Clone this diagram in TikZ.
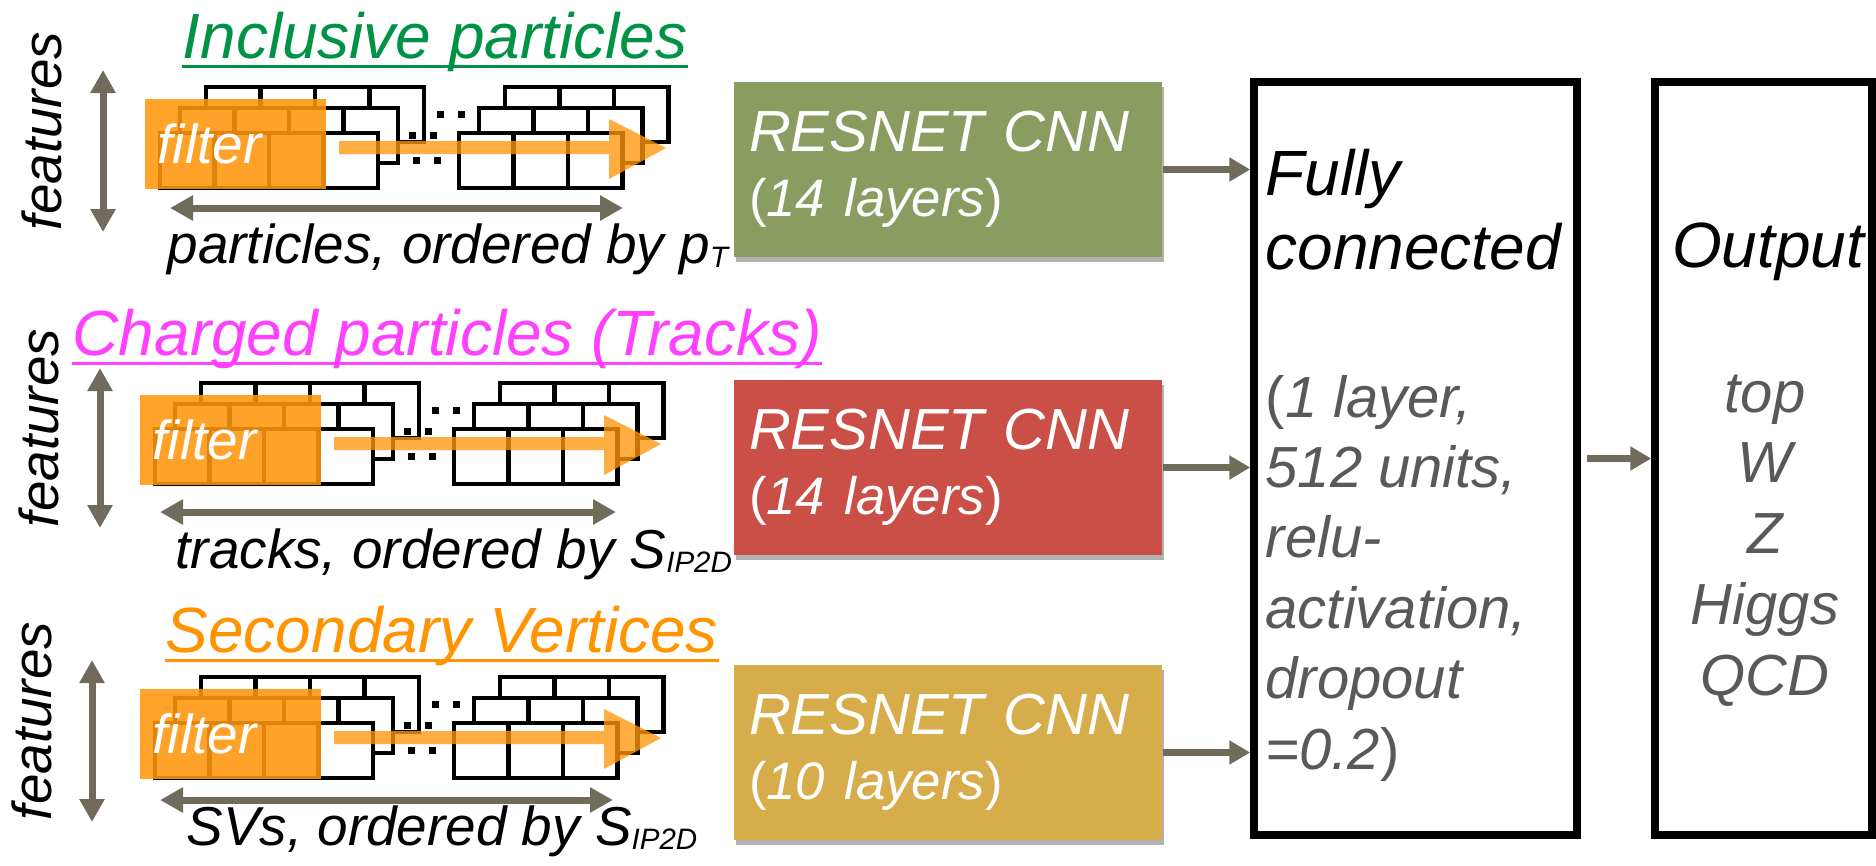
\documentclass[tikz,border=0pt]{standalone}
\usepackage{fontspec}
\setmainfont{Liberation Sans}
\usetikzlibrary{arrows.meta, shadows, calc}

\definecolor{arrowgray}{RGB}{113,107,92}
\definecolor{filterorange}{RGB}{255,150,12}
\definecolor{incgreen}{RGB}{0,146,69}
\definecolor{trkpink}{RGB}{255,64,255}
\definecolor{svorange}{RGB}{255,147,0}
\definecolor{cnngreen}{RGB}{139,156,96}
\definecolor{cnnred}{RGB}{201,79,71}
\definecolor{cnngold}{RGB}{214,173,74}
\definecolor{detailgray}{RGB}{89,89,89}

\newcommand{\fontHead}{\fontsize{18.2}{21}\selectfont\itshape}
\newcommand{\fontBox}{\fontsize{16.5}{18.5}\selectfont\itshape}
\newcommand{\fontLayers}{\fontsize{15}{18.5}\selectfont\itshape}
\newcommand{\fontLabel}{\fontsize{15.6}{18}\selectfont\itshape}
\newcommand{\lowidx}[1]{\raisebox{-1.2pt}{\fontsize{8.4}{10}\selectfont #1}}

\tikzstyle{fmapcell} = [draw=black, fill=white, line width=0.045cm]
\tikzstyle{filterbox} = [rectangle, anchor=north west, fill=filterorange, fill opacity=0.88, text opacity=1, text=white, minimum width=1.81cm, minimum height=0.90cm, text width=1.55cm, inner xsep=0.13cm, inner ysep=0, font=\fontLabel]
\tikzstyle{title} = [anchor=base west, inner sep=0, font=\fontHead]
\tikzstyle{axislabel} = [anchor=base west, inner sep=0, font=\fontLabel]
\tikzstyle{cnn} = [rectangle, minimum width=4.28cm, minimum height=1.75cm, text width=3.98cm, inner xsep=0.15cm, align=left, text=white, font=\fontBox, drop shadow={shadow xshift=0.02cm, shadow yshift=-0.05cm, opacity=0.3, fill=black}]
\tikzstyle{stage} = [rectangle, draw=black, line width=0.075cm, minimum height=7.53cm]
\tikzstyle{detail} = [inner sep=0, font=\fontBox, text=detailgray]
\tikzstyle{dimarrow} = [arrowgray, line width=0.07cm, >={Triangle[length=0.23cm, width=0.24cm]}, <->]
\tikzstyle{flow} = [arrowgray, line width=0.065cm, >={Triangle[length=0.21cm, width=0.23cm]}, ->]

\begin{document}
\begin{tikzpicture}[yscale=-1]
\useasboundingbox (0,0) rectangle (18.76,8.65);

% one input block per row: stacked feature maps, filter and sweep arrow
\foreach \dx/\dy/\r in {0/0/1, -0.05/2.96/2, -0.05/5.90/3} {
  \begin{scope}[shift={(\dx,\dy)}]
    % back map first, front map last
    \foreach \sx/\sy/\px in {0.46/-0.46/4.40, 0.20/-0.25/4.12, 0/0/4.16} {
      \foreach \c in {0,...,3}
        \draw[fmapcell] (1.60+\sx+0.545*\c, 1.33+\sy) rectangle ++(0.545,0.55);
      \foreach \c in {0,1,2}
        \draw[fmapcell] (4.59+\sx+0.545*\c, 1.33+\sy) rectangle ++(0.545,0.55);
      \fill (\px-0.035, 1.57+\sy) rectangle ++(0.07,0.07);
      \fill (\px+0.175, 1.57+\sy) rectangle ++(0.07,0.07);
    }
    \node[filterbox] (filt\r) at (1.44,0.98) {filter};
    \fill[filterorange, opacity=0.78] (3.39,1.41) -- (6.09,1.41) -- (6.09,1.19) -- (6.66,1.48)
      -- (6.09,1.79) -- (6.09,1.54) -- (3.39,1.54) -- cycle;
  \end{scope}
}

% axes of the inputs
\draw[dimarrow] (1.70,2.08) -- (6.23,2.08);
\draw[dimarrow] (1.60,5.12) -- (6.16,5.12);
\draw[dimarrow] (1.60,8.00) -- (6.13,8.00);
\draw[dimarrow] (1.03,0.70) -- (1.03,2.32);
\draw[dimarrow] (1.00,3.68) -- (1.00,5.28);
\draw[dimarrow] (0.92,6.60) -- (0.92,8.22);

\node[rotate=90, font=\fontLabel, inner sep=0] (feat1) at (0.42,1.31) {features};
\node[rotate=90, font=\fontLabel, inner sep=0] (feat2) at (0.39,4.28) {features};
\node[rotate=90, font=\fontLabel, inner sep=0] (feat3) at (0.32,7.21) {features};

\node[axislabel] (axis1) at (1.67,2.63) {particles, ordered by p\lowidx{T}};
\node[axislabel] (axis2) at (1.75,5.68) {tracks, ordered by S\lowidx{IP2D}};
\node[axislabel] (axis3) at (1.86,8.45) {SVs, ordered by S\lowidx{IP2D}};

% row titles, underlined
\node[title, text=incgreen] (title1) at (1.82,0.58) {Inclusive particles};
\node[title, text=trkpink] (title2) at (0.72,3.55) {Charged particles (Tracks)};
\node[title, text=svorange] (title3) at (1.65,6.52) {Secondary Vertices};
\foreach \n/\col in {title1/incgreen, title2/trkpink, title3/svorange}
  \draw[\col, line width=0.03cm] ($(\n.base west)+(0,0.08)$) -- ($(\n.base east)+(0,0.08)$);

% convolutional towers
\node[cnn, fill=cnngreen] (cnn1) at (9.48,1.695) {RESNET CNN\\\fontLayers{\upshape(}14 layers{\upshape)}};
\node[cnn, fill=cnnred] (cnn2) at (9.48,4.675) {RESNET CNN\\\fontLayers{\upshape(}14 layers{\upshape)}};
\node[cnn, fill=cnngold] (cnn3) at (9.48,7.525) {RESNET CNN\\\fontLayers{\upshape(}10 layers{\upshape)}};

% dense part and output
\node[stage, minimum width=3.23cm] (fc) at (14.155,4.585) {};
\node[stage, minimum width=2.17cm] (out) at (17.635,4.585) {};

\node[title] (fully) at (12.65,1.95) {Fully};
\node[title] (connected) at (12.65,2.69) {connected};
\foreach \t [count=\i] in {{{\upshape(}1 layer,}, {512 units,}, {relu-}, {activation,}, {dropout}, {=0.2{\upshape)}}}
  \node[detail, anchor=base west] (fcd\i) at (12.65,3.466+0.704*\i) {\t};

\node[title, anchor=base] (outhead) at (17.68,2.67) {Output};
\foreach \t [count=\i] in {top, W, Z, Higgs, QCD}
  \node[detail, anchor=base] (cls\i) at (17.65,3.4125+0.7075*\i) {\t};

\draw[flow] (cnn1.east) -- (cnn1.east -| fc.west);
\draw[flow] (cnn2.east) -- (cnn2.east -| fc.west);
\draw[flow] (cnn3.east) -- (cnn3.east -| fc.west);
\draw[flow, shorten <=0.06cm] (fc) -- (out);

\end{tikzpicture}
\end{document}
